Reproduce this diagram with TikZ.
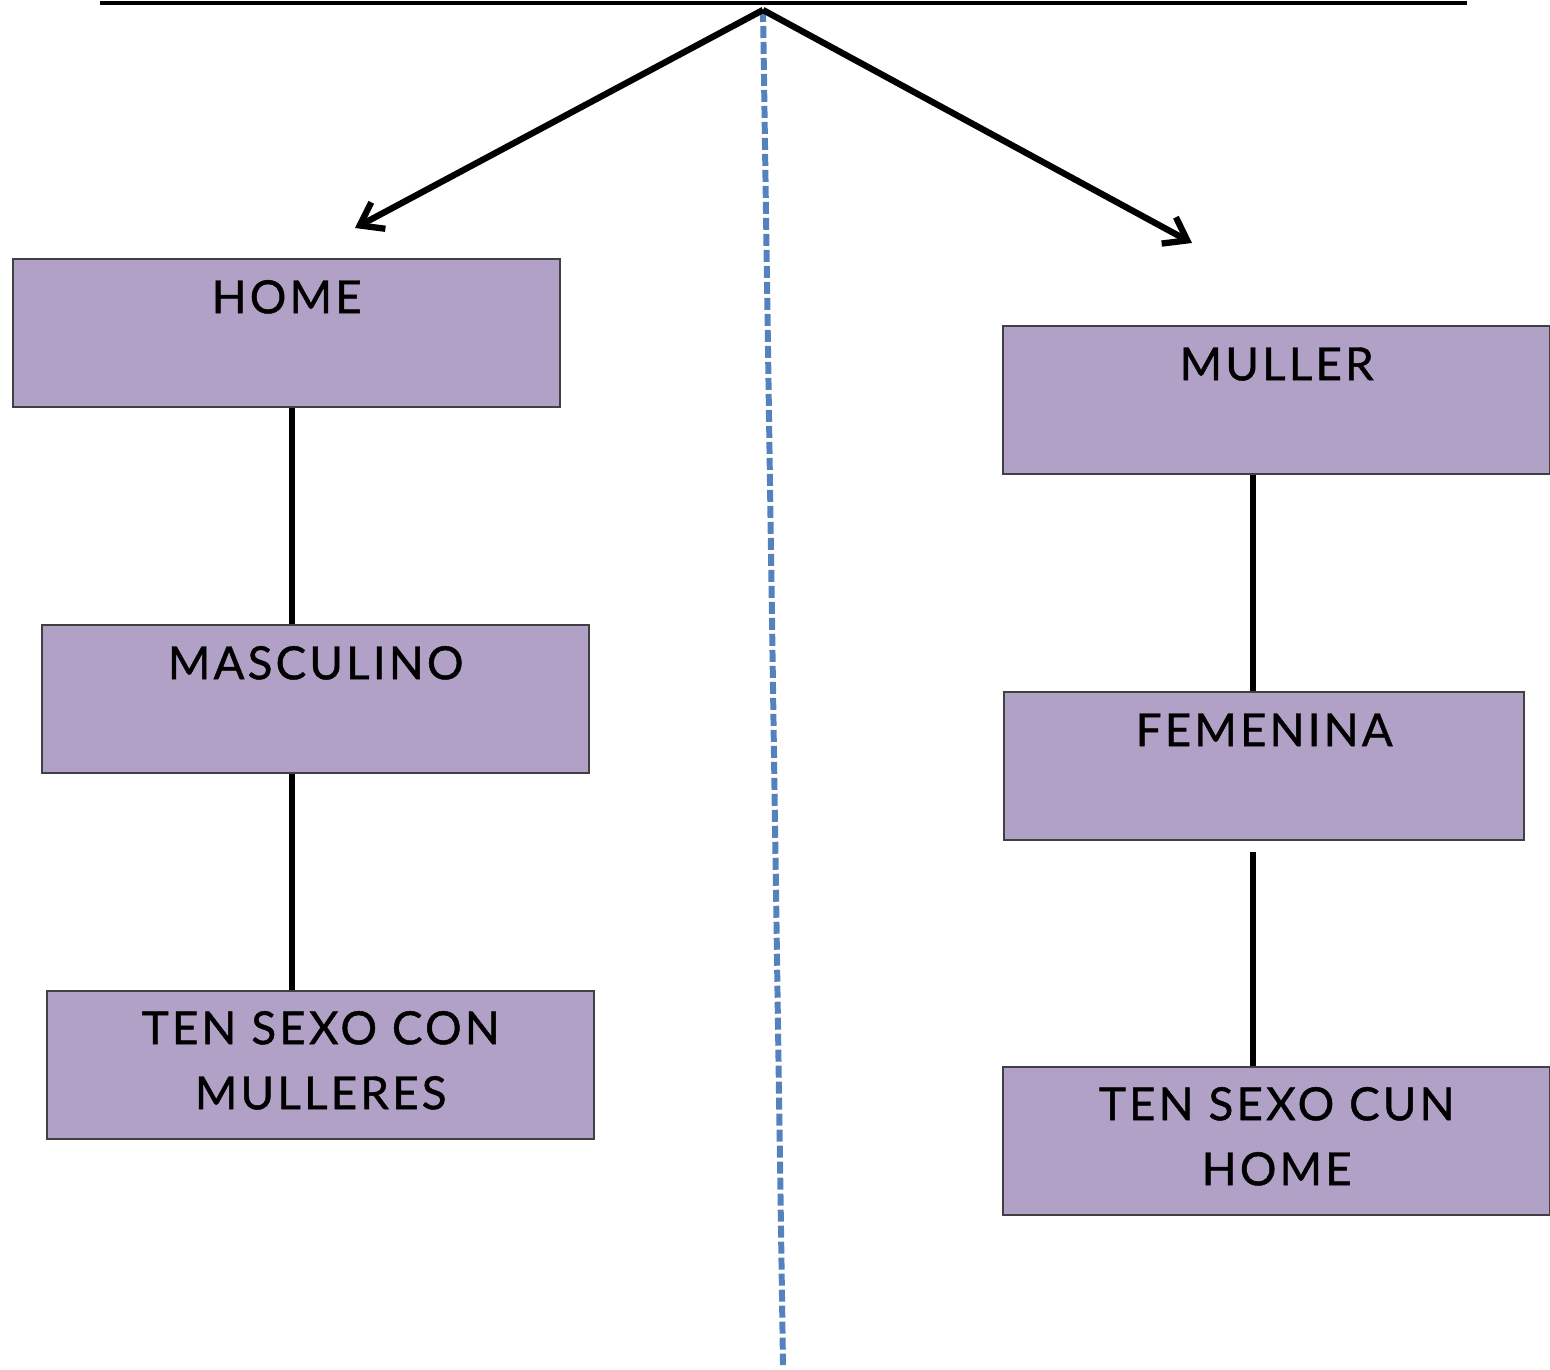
\documentclass[tikz,border=0pt]{standalone}
\usepackage{fontspec}
\setmainfont{Lato}[LetterSpace=7, FakeBold=1]
\usepackage{xcolor}
\usepackage{tikz}
\usetikzlibrary{arrows.meta,positioning}
\definecolor{boxlila}{RGB}{178,161,199}
\definecolor{axisblue}{RGB}{84,130,190}
\tikzstyle{sexbox} = [draw=black!75, fill=boxlila, line width=1.4pt,
    rectangle, minimum width=10.94cm, inner xsep=0pt, inner ysep=0pt,
    text height=1.08cm, text depth=1.88cm, align=center,
    font=\fontsize{26}{37}\selectfont]
\tikzstyle{twoline} = [text height=2.36cm, text depth=0.6cm]
\tikzstyle{link} = [draw=black, line width=3.4pt]
\tikzstyle{branch} = [draw=black, line width=3.6pt,
    -{Straight Barb[length=0.42cm, width=0.6cm, line width=3.6pt]}]

\begin{document}
\begin{tikzpicture}[x=0.02cm, y=-0.02cm]
\useasboundingbox (0,0) rectangle (1550,1369);
% top bar and split point
\coordinate (barl) at (100,3);
\coordinate (barr) at (1467,3);
\coordinate (top) at (763,10);
\coordinate (lefttip) at (355,228);
\coordinate (righttip) at (1192,243);
\coordinate (axisend) at (783,1365);
\draw[line width=2.4pt] (barl) -- (barr);
\draw[axisblue, line width=3.4pt, dash pattern=on 0.24cm off 0.08cm] (top) -- (axisend);
\draw[branch] (top) -- (lefttip);
\draw[branch] (top) -- (righttip);

% left column
\node [sexbox, anchor=north west] (home) at (12,258) {HOME};
\node [sexbox, anchor=north west] (masc) at (41,624) {MASCULINO};
\node [sexbox, twoline, anchor=north west] (conmul) at (46,990) {TEN SEXO CON\\MULLERES};
\draw[link] ([xshift=0.11cm]home.south) -- ([xshift=0.11cm]home.south |- masc.north);
\draw[link] ([xshift=0.11cm]home.south |- masc.south) -- ([xshift=0.11cm]home.south |- conmul.north);

% right column
\node [sexbox, anchor=north west] (muller) at (1002,325) {MULLER};
\node [sexbox, anchor=north west, minimum width=10.4cm] (fem) at (1003,691) {FEMENINA};
\node [sexbox, twoline, anchor=north west] (cunhome) at (1002,1066) {TEN SEXO CUN\\HOME};
\draw[link] ([xshift=-0.22cm]fem.north |- muller.south) -- ([xshift=-0.22cm]fem.north);
\draw[link] ([xshift=-0.22cm, yshift=-0.22cm]fem.south) -- ([xshift=-0.22cm]fem.south |- cunhome.north);
\end{tikzpicture}
\end{document}
